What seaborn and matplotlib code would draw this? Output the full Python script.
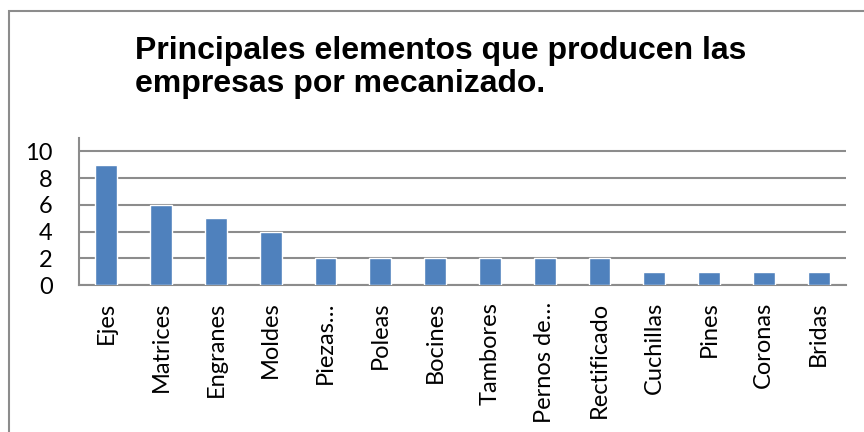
import matplotlib
matplotlib.use("Agg")
import matplotlib.pyplot as plt
import pandas as pd
import seaborn as sns
from matplotlib.patches import Rectangle

categories = ["Ejes", "Matrices", "Engranes", "Moldes", "Piezas…", "Poleas", "Bocines",
              "Tambores", "Pernos de…", "Rectificado", "Cuchillas", "Pines", "Coronas", "Bridas"]
counts = [9, 6, 5, 4, 2, 2, 2, 2, 2, 2, 1, 1, 1, 1]
yticks = [0, 2, 4, 6, 8, 10]
title = "Principales elementos que producen las\nempresas por mecanizado."

df = pd.DataFrame({"elemento": categories, "cantidad": counts})

sns.set_theme(style="white")
plt.rcParams["font.family"] = ["Lato", "DejaVu Sans"]

fig = plt.figure(figsize=(8.64, 4.32), dpi=100)
ax = fig.add_axes([79 / 864, 1 - 285 / 432, (846 - 79) / 864, (285 - 138) / 432])

sns.barplot(data=df, x="elemento", y="cantidad", color="#4F81BD", width=0.4,
            saturation=1, ax=ax, zorder=3)

ax.set_ylim(0, 11)
ax.set_yticks(yticks)
ax.set_xlim(-0.5, len(categories) - 0.5)
ax.yaxis.grid(True, color="#8c8c8c", linewidth=1.5, zorder=0)
ax.set_xlabel("")
ax.set_ylabel("")
ax.tick_params(axis="x", labelrotation=90, length=0, pad=12, labelsize=17, colors="black")
ax.tick_params(axis="y", length=0, pad=19, labelsize=17, colors="black")
for lbl in ax.get_xticklabels():
    lbl.set_va("top")
for side in ["top", "right"]:
    ax.spines[side].set_visible(False)
for side in ["left", "bottom"]:
    ax.spines[side].set_color("#8c8c8c")
    ax.spines[side].set_linewidth(1.5)

fig.text(441 / 864, 1 - 36 / 432, title, ha="center", va="top", multialignment="left",
         fontsize=23, fontweight="bold", family=["Liberation Sans", "DejaVu Sans"],
         linespacing=1.13, color="black")

fig.patches.append(Rectangle((9 / 864, -0.1), 2, (432 - 11) / 432 + 0.1,
                             transform=fig.transFigure, fill=False,
                             edgecolor="#8c8c8c", linewidth=1.5))

fig.savefig("out.png", dpi=100)
